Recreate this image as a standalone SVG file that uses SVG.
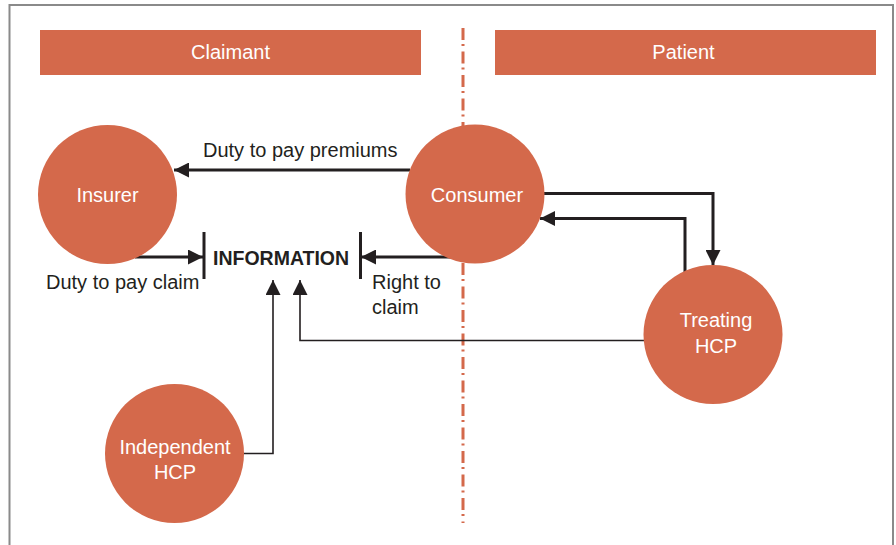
<svg xmlns="http://www.w3.org/2000/svg" width="896" height="545" viewBox="0 0 896 545">
  <style>
    .bar { fill: #D4694B; }
    .node { fill: #D4694B; }
    .head { font-family: "Liberation Sans", Arial, sans-serif; font-size: 20px; fill: #ffffff; text-anchor: middle; }
    .ntext { font-family: "Liberation Sans", Arial, sans-serif; font-size: 20px; fill: #ffffff; text-anchor: middle; }
    .lbl { font-family: "Liberation Sans", Arial, sans-serif; font-size: 20px; fill: #231F20; }
    .info { font-family: "Liberation Sans", Arial, sans-serif; font-size: 19.5px; font-weight: bold; fill: #231F20; }
    .thick { fill: none; stroke: #231F20; stroke-width: 3; }
    .thin { fill: none; stroke: #231F20; stroke-width: 1.6; }
    .stop { stroke: #231F20; stroke-width: 3; }
  </style>
  <defs>
    <marker id="ah" markerUnits="userSpaceOnUse" viewBox="0 0 15 15" refX="15" refY="7.5" markerWidth="15" markerHeight="15" orient="auto">
      <path d="M0,0 L15,7.5 L0,15 Z" fill="#231F20"/>
    </marker>
  </defs>

  <!-- frame -->
  <rect x="0" y="0" width="896" height="545" fill="#ffffff"/>
  <path d="M9.5,545 V5 H893 V545" fill="none" stroke="#8a8a8a" stroke-width="2"/>

  <!-- lane headers -->
  <g id="lane-claimant">
    <rect class="bar" x="40" y="30" width="381" height="45"/>
    <text class="head" x="230.5" y="59">Claimant</text>
  </g>
  <g id="lane-patient">
    <rect class="bar" x="495" y="30" width="381" height="45"/>
    <text class="head" x="683.5" y="59">Patient</text>
  </g>

  <!-- lane divider -->
  <line x1="463" y1="28" x2="463" y2="523" stroke="#D4694B" stroke-width="3" stroke-dasharray="12,4,2,5.5"/>

  <!-- connectors -->
  <g id="connectors">
    <line class="thick" x1="410" y1="170" x2="174" y2="170" marker-end="url(#ah)"/>
    <line class="thick" x1="135" y1="257" x2="203" y2="257" marker-end="url(#ah)"/>
    <line class="thick" x1="470" y1="257" x2="361" y2="257" marker-end="url(#ah)"/>
    <line class="stop" x1="204" y1="232" x2="204" y2="279"/>
    <line class="stop" x1="360.5" y1="232" x2="360.5" y2="279"/>
    <polyline class="thick" points="540,193.5 713,193.5 713,265" marker-end="url(#ah)"/>
    <polyline class="thick" points="685,272 685,218.5 540,218.5" marker-end="url(#ah)"/>
    <polyline class="thin" points="645,340.5 300,340.5 300,280" marker-end="url(#ah)"/>
    <polyline class="thin" points="244,453.5 273,453.5 273,280" marker-end="url(#ah)"/>
  </g>

  <!-- connector labels -->
  <text class="lbl" x="203" y="156.5">Duty to pay premiums</text>
  <text class="lbl" x="46" y="289">Duty to pay claim</text>
  <text class="lbl" x="372" y="289">Right to</text>
  <text class="lbl" x="372" y="314">claim</text>
  <text class="info" x="213" y="265">INFORMATION</text>

  <!-- nodes -->
  <g id="insurer">
    <circle class="node" cx="107.5" cy="194.5" r="69.5"/>
    <text class="ntext" x="107.5" y="202">Insurer</text>
  </g>
  <g id="consumer">
    <circle class="node" cx="475" cy="194" r="69.5"/>
    <text class="ntext" x="477" y="202">Consumer</text>
  </g>
  <g id="treating-hcp">
    <circle class="node" cx="713" cy="334.5" r="69.5"/>
    <text class="ntext" x="716" y="327">Treating</text>
    <text class="ntext" x="716" y="353">HCP</text>
  </g>
  <g id="independent-hcp">
    <circle class="node" cx="174.5" cy="453.5" r="69.5"/>
    <text class="ntext" x="175" y="454">Independent</text>
    <text class="ntext" x="175" y="479">HCP</text>
  </g>
</svg>
